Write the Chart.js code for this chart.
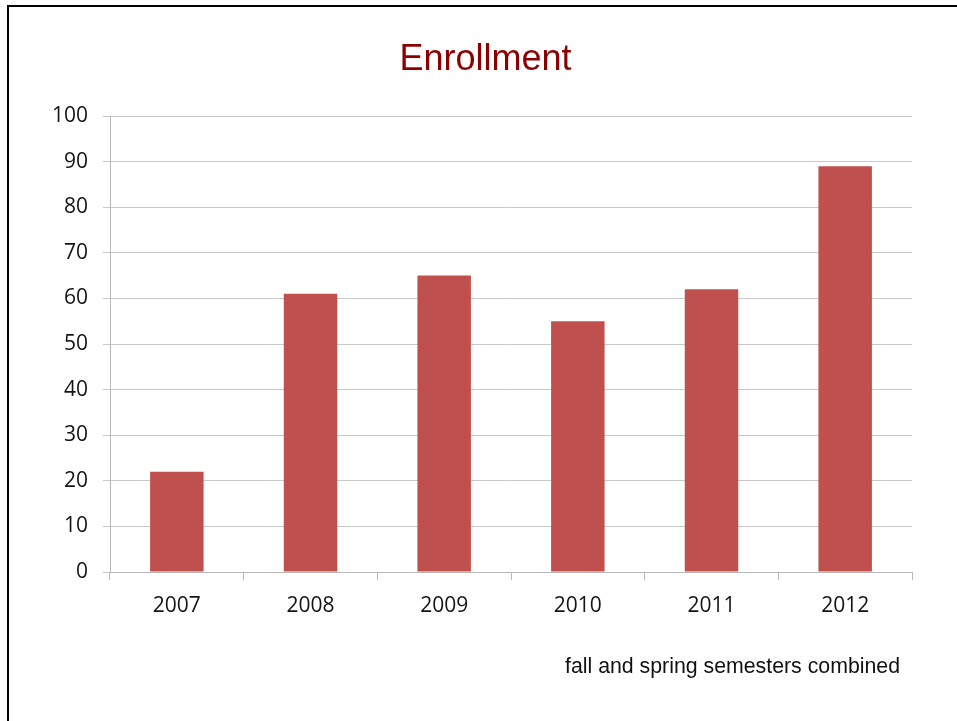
<!DOCTYPE html>
<html>
<head>
<meta charset="utf-8">
<title>Enrollment</title>
<script src="https://cdn.jsdelivr.net/npm/chart.js@4"></script>
<style>
	html, body { margin: 0; padding: 0; background: #fff; }
	.frame { position: relative; width: 957px; height: 721px; overflow: hidden; }
	.frame .edge {
		position: absolute; left: 7px; top: 5px; right: -10px; bottom: -10px;
		border-left: 2px solid #000; border-top: 2px solid #000;
	}
	.frame canvas { position: absolute; left: 0; top: 0; }
	.heading {
		position: absolute; left: 0; top: 40px; width: 971px; margin: 0;
		text-align: center; color: #8B0000;
		font: normal 36px "Liberation Sans", Arial, sans-serif; line-height: 36px;
	}
	.note {
		position: absolute; left: 565px; top: 656px;
		font: 21.3px "Liberation Sans", Arial, sans-serif; line-height: 21px;
		color: #111; white-space: nowrap;
	}
</style>
</head>
<body>
<div class="frame">
	<div class="edge"></div>
	<canvas id="enrollment" width="957" height="721"></canvas>
	<h1 class="heading">Enrollment</h1>
	<div class="note">fall and spring semesters combined</div>
</div>
<script>
const years = ['2007', '2008', '2009', '2010', '2011', '2012'];
const students = [22, 61, 65, 55, 62, 89];
const yTicks = [0, 10, 20, 30, 40, 50, 60, 70, 80, 90, 100];

const tickFont = { family: '"Open Sans", sans-serif', size: 21 };

const data = {
	labels: years,
	datasets: [{
		label: 'Enrollment',
		backgroundColor: '#C0504D',
		borderWidth: 0,
		data: students,
		categoryPercentage: 1,
		barPercentage: 0.4
	}]
};

const config = {
	type: 'bar',
	data: data,
	options: {
		responsive: false,
		animation: false,
		layout: { padding: { left: 0, right: 45, top: 116, bottom: 0 } },
		plugins: {
			legend: { display: false },
			tooltip: { enabled: false }
		},
		scales: {
			x: {
				grid: {
					drawOnChartArea: false,
					drawTicks: true,
					tickLength: 8,
					color: '#b8b8b8',
					offset: true
				},
				border: { display: true, color: '#b8b8b8', width: 1 },
				ticks: { font: tickFont, color: '#141414', padding: 13 },
				afterFit: (scale) => { scale.height = 149; }
			},
			y: {
				min: 0,
				max: 100,
				afterBuildTicks: (scale) => { scale.ticks = yTicks.map(v => ({ value: v })); },
				grid: { color: '#c8c8c8', tickLength: 7, drawTicks: true },
				border: { display: true, color: '#b8b8b8', width: 1 },
				ticks: { font: tickFont, color: '#141414', padding: 15 },
				afterFit: (scale) => { scale.width = 110; }
			}
		}
	}
};

new Chart(document.getElementById('enrollment'), config);
</script>
</body>
</html>
